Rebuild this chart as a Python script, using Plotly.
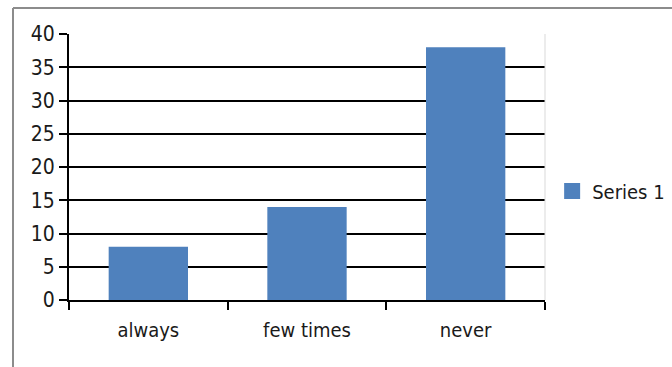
import plotly.graph_objects as go

categories = ["always", "few times", "never"]
values = [8, 14, 38]
series_name = "Series 1"
y_ticks = [0, 5, 10, 15, 20, 25, 30, 35, 40]

font_family = "DejaVu Sans Condensed, Liberation Sans Narrow, Liberation Sans, Arial"
bar_color = "#4F81BD"

fig = go.Figure()
fig.add_trace(go.Bar(
    x=categories, y=values, name=series_name,
    marker=dict(color=bar_color, line=dict(width=0)),
    showlegend=False,
))
# legend proxy (square swatch like the reference)
fig.add_trace(go.Scatter(
    x=[None], y=[None], mode="markers", name=series_name,
    marker=dict(symbol="square", size=17, color=bar_color),
    showlegend=True,
))

L, R, T, B = 69, 127, 34, 67
W, H = 672, 367
pw, ph = W - L - R, H - T - B

fig.update_layout(
    width=W, height=H,
    margin=dict(l=L, r=R, t=T, b=B, autoexpand=False),
    paper_bgcolor="white", plot_bgcolor="white",
    bargap=0.5,
    font=dict(family=font_family, size=20, color="#1a1a1a"),
    legend=dict(x=1.015, y=0.41, xanchor="left", yanchor="middle",
                font=dict(size=20), itemwidth=30, bgcolor="rgba(0,0,0,0)"),
    xaxis=dict(
        type="category", showgrid=False, showline=True, linecolor="black", linewidth=2,
        ticks="outside", tickson="boundaries", ticklen=8, tickwidth=2, tickcolor="black",
        tickfont=dict(size=20), ticklabelstandoff=11,
    ),
    yaxis=dict(
        range=[0, 40], tickvals=y_ticks, showgrid=True, gridcolor="black", gridwidth=2,
        showline=True, linecolor="black", linewidth=2, zeroline=False,
        ticks="outside", ticklen=8, tickwidth=2, tickcolor="black",
        tickfont=dict(size=21), ticklabelstandoff=0,
    ),
)

# outer frame lines (left and top)
fx = (13 - L) / pw
fy = 1 + (T - 8) / ph
fig.add_shape(type="line", xref="paper", yref="paper", x0=fx, x1=fx, y0=fy, y1=-1, line=dict(color="#8c8c8c", width=2))
fig.add_shape(type="line", xref="paper", yref="paper", x0=fx, x1=1.5, y0=fy, y1=fy, line=dict(color="#8c8c8c", width=2))
# right plot edge
fig.add_shape(type="line", xref="paper", yref="paper", x0=1, x1=1, y0=0, y1=1, line=dict(color="#d9d9d9", width=1))

fig.write_html("out.html")
